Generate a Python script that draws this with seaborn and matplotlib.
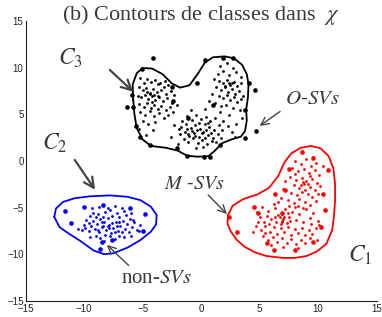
import numpy as np
import pandas as pd
import matplotlib
matplotlib.use('Agg')
import matplotlib.pyplot as plt
import seaborn as sns

# class C3 (black): small points
c3_x = [-5.2, -4.9, -4.6, -4.3, -3.9, -3.5, -3.1, -2.8, -5.3, -5.0, -4.7, -4.4, -4.1, -3.8, -3.4, -3.0,
        -2.6, -5.4, -5.1, -4.8, -4.5, -4.2, -3.9, -3.6, -3.3, -2.9, -2.5, -5.3, -4.9, -4.6, -4.3, -4.0,
        -3.7, -3.4, -3.0, -2.7, -5.2, -4.8, -4.4, -4.0, -3.6, -3.2, -2.8, -5.0, -4.5, -3.9, -5.3, -4.7,
        -4.1, -2.4, -4.35, -4.0, -3.7, -4.2, -4.6, -3.2, -3.7, -2.3, -2.1,
        -1.6, -1.2, -0.8, -0.4, 0.0, 0.4, 0.8, 1.2, -1.7, -1.3, -0.9, -0.5, -0.1, 0.3, 0.7, 1.1, 1.5,
        -1.8, -1.4, -1.0, -0.6, -0.2, 0.2, 0.6, 1.0, 1.4, 1.8, -1.5, -1.1, -0.7, -0.3, 0.1, 0.5, 0.9,
        1.3, -0.4, 0.2, -1.9, -1.2, -0.75, -0.35, 0.05, 0.45, 0.85, -0.55, -1.1, 0.35, -0.15, 0.6, 1.9,
        2.3, 2.6, -2.3, -2.6, -0.9, 0.3, 1.6, 2.4, -2.0, 1.7, 2.9,
        1.6, 2.2, 2.7, 1.4, 1.9, 2.4, 3.0, 3.4, 1.5, 1.9, 2.2, 2.5, 2.8, 3.1, 3.4, 1.3, 1.7, 2.0, 2.3,
        2.6, 2.9, 3.2, 1.5, 1.9, 2.2, 2.5, 2.8, 3.1, 3.4, 1.2, 1.7, 2.1, 2.7, 3.3, 0.9, 0.7, 2.35, 2.05,
        2.65, 1.1, 3.6, 3.5, 3.0]
c3_y = [8.9, 8.4, 8.8, 8.5, 8.7, 8.3, 8.6, 8.1, 7.9, 7.6, 7.8, 7.3, 7.7, 7.4, 7.6, 7.2,
        7.5, 7.0, 6.8, 7.1, 6.6, 6.9, 6.5, 6.8, 6.4, 6.7, 6.2, 6.1, 5.8, 6.2, 5.7, 6.0,
        5.6, 5.9, 5.5, 5.8, 5.2, 4.9, 5.3, 4.8, 5.1, 4.6, 4.9, 4.3, 4.0, 4.2, 3.4, 2.8,
        3.3, 5.2, 7.15, 7.1, 7.0, 6.3, 7.4, 7.9, 8.2, 7.1, 6.0,
        4.3, 4.8, 4.4, 4.9, 4.5, 4.7, 4.3, 4.6, 3.6, 3.9, 3.5, 3.8, 3.4, 3.9, 3.6, 3.3, 3.8,
        2.9, 3.1, 2.7, 3.0, 2.6, 3.1, 2.8, 2.5, 2.9, 3.3, 2.3, 2.0, 2.4, 1.9, 2.2, 1.8, 2.1,
        2.0, 1.4, 1.5, 3.4, 3.45, 3.2, 3.35, 3.0, 3.35, 3.0, 2.7, 2.9, 2.5, 4.1, 4.1, 4.3,
        3.7, 3.1, 3.8, 2.6, 5.5, 5.6, 5.2, 4.9, 1.8, 2.4, 2.6,
        10.2, 10.5, 10.0, 9.3, 9.6, 9.2, 9.5, 9.0, 8.6, 8.3, 8.7, 8.1, 8.5, 8.0, 8.3, 7.9, 7.6, 7.9, 7.4,
        7.7, 7.2, 7.5, 7.0, 6.7, 7.1, 6.5, 6.8, 6.3, 6.6, 6.2, 5.9, 6.0, 5.7, 5.4, 7.2, 6.4, 8.35, 8.05,
        8.3, 8.8, 7.0, 4.6, 4.0]
# class C3 support vectors
c3_sv_x = [-5.9, -6.3, -5.55, -5.8, -5.07, -4.15, -4.4, -5.2, -2.1, -1.2, 0.25, 0.77, 1.6, 3.76,
           4.7, 3.76, 4.6, 4.05, 2.76, 1.9, 0.35, -0.37, 1.05, -1.1, -2.4, -2.5]
c3_sv_y = [7.1, 5.8, 3.75, 5.8, 9.9, 11.0, 1.65, 2.6, 1.35, 0.5, 0.45, 0.45, 1.7, 2.5,
           3.2, 5.5, 7.6, 8.3, 11.0, 11.0, 10.8, 8.3, 6.0, 4.6, 6.4, 7.9]
c3_cx = [-5.8, -5.85, -5.5, -5.0, -4.2, -3.3, -2.5, -1.8, -1.0, -0.3, 0.3, 1.0, 2.0, 2.8, 3.5, 3.9,
         4.05, 4.0, 3.85, 3.9, 3.75, 3.4, 2.6, 1.8, 1.1, 0.6, -0.3, -1.2, -2.0, -3.0, -4.3, -5.0,
         -5.5, -5.7, -5.8]
c3_cy = [6.5, 8.2, 9.4, 9.95, 9.9, 9.3, 8.3, 7.85, 8.1, 9.3, 10.5, 11.1, 11.2, 11.0, 10.3, 9.3,
         8.2, 6.8, 5.5, 4.3, 3.2, 2.6, 2.3, 1.9, 1.0, 0.5, 0.45, 0.55, 1.1, 1.4, 1.6, 2.3,
         3.5, 5.0, 6.5]

# class C2 (blue)
c2_x = [-10.2, -9.9, -9.6, -9.4, -9.1, -8.9, -8.7, -8.5, -8.3, -8.1, -7.9, -7.7, -7.5, -7.3, -7.1,
        -6.9, -6.7, -6.5, -6.3, -6.1, -5.9, -5.7, -5.5, -5.3, -9.8, -9.5, -9.2, -8.8, -8.6, -8.2,
        -8.0, -7.8, -7.6, -7.2, -7.0, -6.6, -6.4, -6.0, -9.3, -8.7, -8.0, -7.4, -6.8, -9.0, -8.6,
        -8.2, -7.8, -7.4, -7.0, -6.6, -9.5, -10.0, -10.5, -8.4, -8.0, -7.6, -8.8, -7.2, -6.2, -5.8,
        -5.2, -8.4, -9.6, -7.0, -6.0, -9.2, -8.3, -7.9, -8.5, -9.0, -7.4, -6.8]
c2_y = [-7.4, -7.2, -7.5, -7.0, -7.3, -6.8, -7.6, -7.1, -6.6, -7.4, -6.9, -7.7, -7.2, -6.5, -7.5,
        -7.0, -6.4, -7.3, -6.8, -6.2, -7.1, -6.6, -7.4, -7.5, -6.3, -5.9, -6.4, -5.7, -6.2, -5.5,
        -6.1, -5.3, -5.9, -5.6, -6.0, -5.4, -5.8, -5.6, -5.1, -4.9, -5.0, -4.8, -5.0, -8.0, -8.3,
        -7.9, -8.1, -8.4, -8.0, -8.2, -8.2, -6.9, -7.3, -7.0, -7.0, -6.7, -7.4, -7.0, -7.6, -6.3,
        -6.9, -6.0, -6.7, -6.6, -8.0, -5.6, -8.6, -7.2, -6.5, -6.0, -7.6, -7.6]
c2_sv_x = [-11.6, -11.1, -10.0, -8.35, -6.1, -4.8, -5.0, -8.5, -8.6, -7.6]
c2_sv_y = [-5.4, -6.7, -4.9, -4.7, -5.0, -5.7, -7.5, -8.7, -9.4, -8.5]
c2_cx = [-12.55, -12.4, -11.8, -10.8, -9.5, -7.8, -6.3, -5.2, -4.3, -3.8, -3.85, -4.3, -5.2, -6.3,
         -7.5, -8.3, -9.2, -10.3, -11.3, -12.1, -12.55]
c2_cy = [-6.0, -5.1, -4.4, -4.0, -3.8, -3.7, -3.85, -4.2, -4.9, -5.8, -6.8, -7.6, -8.5, -9.3,
         -9.9, -10.0, -9.6, -8.6, -7.8, -7.1, -6.0]

# class C1 (red)
c1_x = [8.0, 8.5, 9.0, 9.4, 9.8, 7.8, 8.3, 8.8, 9.2, 9.7, 10.1, 7.6, 8.1, 8.6, 9.0, 9.5, 9.9, 7.9,
        8.4, 8.8, 9.3, 9.7, 10.2, 7.7, 8.2, 8.6, 9.1, 9.5, 10.0, 7.4, 7.9, 8.4, 8.9, 9.3, 9.8, 8.7,
        9.1, 8.5, 9.3, 8.0, 10.4, 9.6, 8.9, 8.3, 7.2, 7.0, 6.8,
        5.0, 5.4, 5.7, 6.0, 6.3, 6.6, 6.9, 7.2, 7.5, 7.8, 8.1, 8.4, 8.7, 9.0, 9.3, 9.6, 10.0, 4.7,
        5.1, 5.5, 5.9, 6.2, 6.5, 6.8, 7.1, 7.4, 7.7, 8.0, 8.3, 8.6, 8.9, 9.2, 9.5, 9.8, 5.3, 5.7,
        6.1, 6.5, 6.9, 7.3, 7.7, 8.1, 8.5, 8.9, 9.3, 6.0, 7.0, 8.3, 6.7, 6.9, 7.0, 6.8, 6.4, 7.3,
        7.6, 5.8, 4.4, 4.9, 5.6, 6.2, 6.6, 7.5, 5.2, 4.8, 9.9, 10.1, 8.0, 8.7, 6.3, 7.1, 6.9, 7.4,
        5.5, 9.4]
c1_y = [0.0, -0.3, 0.2, -0.5, -0.2, -0.8, -1.1, -0.9, -1.3, -1.0, -1.5, -1.7, -2.0, -1.8, -2.2,
        -1.9, -2.4, -2.6, -2.9, -2.5, -2.8, -3.1, -2.7, -3.4, -3.7, -3.3, -3.6, -3.9, -3.5, -4.2,
        -4.5, -4.1, -4.4, -4.7, -4.3, -2.3, -2.5, -2.6, -1.6, -1.4, -0.6, 0.4, -3.1, -4.8, -2.2,
        -3.0, -4.0,
        -6.0, -6.6, -5.4, -6.2, -5.0, -5.8, -6.4, -5.2, -6.0, -5.5, -6.3, -5.7, -6.6, -5.2, -6.1,
        -5.6, -6.4, -7.0, -7.4, -7.0, -7.6, -7.1, -7.8, -7.2, -7.6, -7.1, -7.9, -7.3, -7.7, -7.2,
        -7.9, -7.4, -7.8, -7.2, -8.1, -8.5, -8.2, -8.7, -8.3, -8.8, -8.4, -8.9, -8.5, -8.8, -8.3,
        -9.0, -9.2, -9.3, -6.0, -5.7, -6.2, -6.8, -6.5, -6.7, -6.4, -6.8, -7.6, -6.5, -5.9, -4.6,
        -4.4, -4.8, -4.9, -5.5, -8.5, -6.9, -4.9, -5.0, -6.0, -6.0, -6.6, -5.6, -7.7, -6.8]
c1_sv_x = [2.4, 3.05, 4.5, 6.3, 7.2, 7.5, 8.6, 9.6, 10.8, 10.45, 10.55, 10.25, 9.6, 8.0, 6.2, 5.6,
           4.9, 6.9]
c1_sv_y = [-6.0, -7.6, -4.9, -3.5, -3.1, -0.9, 1.0, 0.3, -1.0, -3.6, -5.25, -7.1, -8.65, -9.55,
           -9.6, -8.75, -5.6, -5.6]
c1_cx = [2.3, 2.7, 3.6, 4.8, 5.8, 6.6, 7.1, 7.7, 8.5, 9.4, 10.2, 10.9, 11.3, 11.45, 11.45, 11.35,
         11.2, 10.7, 9.9, 9.0, 8.0, 7.0, 5.6, 4.6, 3.7, 3.0, 2.5, 2.25, 2.3]
c1_cy = [-5.8, -4.8, -4.1, -3.6, -2.9, -1.6, -0.2, 0.8, 1.4, 1.6, 1.35, 0.5, -0.8, -2.5, -4.2, -6.0,
         -7.4, -8.9, -9.7, -10.2, -10.4, -10.4, -10.2, -9.8, -9.2, -8.4, -7.5, -6.7, -5.8]

ticks = [-15, -10, -5, 0, 5, 10, 15]

sns.set_style('white')
plt.rcParams['mathtext.fontset'] = 'stix'
plt.rcParams['font.family'] = ['Liberation Sans', 'DejaVu Sans']

fig = plt.figure(figsize=(3.82, 3.17), dpi=100)
ax = fig.add_axes([0.067, 0.051, 0.919, 0.883])

groups = [
    (c3_x, c3_y, c3_sv_x, c3_sv_y, c3_cx, c3_cy, '#000000'),
    (c2_x, c2_y, c2_sv_x, c2_sv_y, c2_cx, c2_cy, '#0000ff'),
    (c1_x, c1_y, c1_sv_x, c1_sv_y, c1_cx, c1_cy, '#ff0000'),
]
for px, py, sx, sy, cx, cy, col in groups:
    cont = pd.DataFrame({'x': cx, 'y': cy})
    sns.lineplot(data=cont, x='x', y='y', sort=False, estimator=None, color=col,
                 lw=1.3, ax=ax)
    sns.scatterplot(x=px, y=py, color=col, s=4, linewidth=0, ax=ax)
    sns.scatterplot(x=sx, y=sy, color=col, s=11, linewidth=0, ax=ax)

ax.set_xlim(-15, 15)
ax.set_ylim(-15, 15)
ax.set_xticks(ticks)
ax.set_yticks(ticks)
ax.set_xlabel('')
ax.set_ylabel('')
ax.tick_params(direction='in', length=3, labelsize=7, pad=1.5, color='#222222',
               labelcolor='#222222')
ax.tick_params(axis='x', pad=2.5)
for s in ['top', 'right']:
    ax.spines[s].set_visible(False)
for s in ['left', 'bottom']:
    ax.spines[s].set_color('#222222')
    ax.spines[s].set_linewidth(0.8)

txt = '#3a3a3a'
serif = ['Liberation Serif', 'DejaVu Serif']
ax.set_title(r'(b) Contours de classes dans  $\chi$', fontsize=16, color=txt,
             family=serif, pad=1)

# labels
ax.text(-11.2, 11.0, r'$C_3$', fontsize=17, color=txt, ha='center', va='center')
ax.text(-12.5, 1.9, r'$C_2$', fontsize=17, color=txt, ha='center', va='center')
ax.text(13.6, -10.1, r'$C_1$', fontsize=17, color=txt, ha='center', va='center')
ax.text(9.5, 6.7, r'$O$-$SVs$', fontsize=15, color=txt, ha='center', va='center')
ax.text(-0.6, -2.4, r'$M$ -$SVs$', fontsize=14.5, color=txt, ha='center', va='center')
ax.text(-3.8, -12.6, r'non-$SVs$', fontsize=15, color=txt, ha='center', va='center',
        family=serif)

# arrows: (tail, head)
thin = dict(arrowstyle='->', color='#444444', lw=1.0, mutation_scale=14,
            shrinkA=0, shrinkB=0)
thick = dict(thin, lw=1.6, mutation_scale=18)
ax.annotate('', xy=(-5.8, 7.4), xytext=(-7.8, 9.75), arrowprops=thick)
ax.annotate('', xy=(-9.06, -3.1), xytext=(-10.8, 0.1), arrowprops=thick)
ax.annotate('', xy=(5.0, 3.75), xytext=(6.75, 5.3), arrowprops=thin)
ax.annotate('', xy=(2.2, -5.7), xytext=(0.6, -3.65), arrowprops=thin)
ax.annotate('', xy=(-8.05, -9.0), xytext=(-6.2, -11.2), arrowprops=thin)

fig.savefig('out.png', dpi=100)
